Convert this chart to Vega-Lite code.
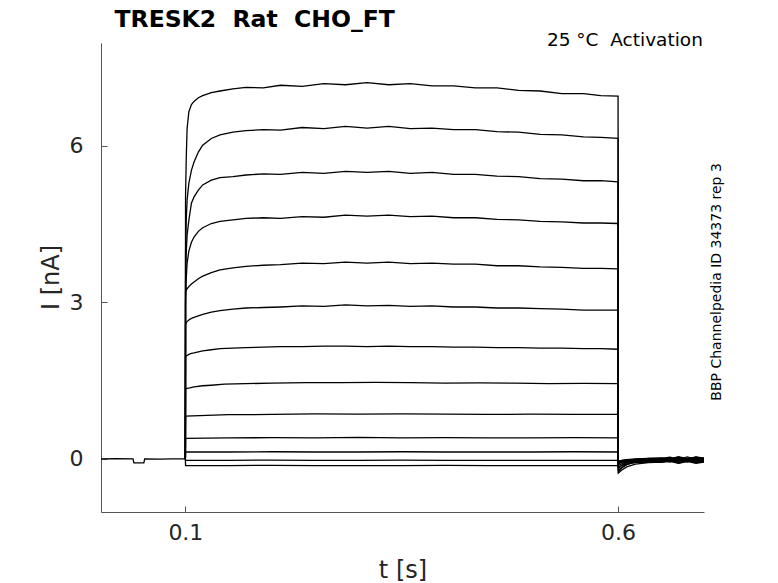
{
  "$schema": "https://vega.github.io/schema/vega-lite/v6.json",
  "width": 603,
  "height": 469,
  "autosize": "none",
  "padding": {"left": 101, "top": 43, "right": 74, "bottom": 71},
  "background": "white",
  "config": {
    "view": {"stroke": null},
    "axis": {
      "grid": false,
      "domainColor": "#555",
      "tickColor": "#555",
      "tickSize": -6,
      "labelColor": "#262626",
      "titleColor": "#262626",
      "labelFont": "DejaVu Sans",
      "titleFont": "DejaVu Sans",
      "labelFontSize": 22,
      "titleFontSize": 24,
      "titleFontWeight": "normal"
    }
  },
  "layer": [
    {
      "data": {"values": [
        {"s":0,"t":0.0025,"i":0},{"s":0,"t":0.02,"i":0.005},{"s":0,"t":0.0395,"i":0},{"s":0,"t":0.0405,"i":-0.08},{"s":0,"t":0.052,"i":-0.08},{"s":0,"t":0.053,"i":0},{"s":0,"t":0.07,"i":-0.005},{"s":0,"t":0.085,"i":0},{"s":0,"t":0.1,"i":0},

        {"s":1,"t":0.1,"i":0},{"s":1,"t":0.1002,"i":5.03},{"s":1,"t":0.101,"i":5.75},{"s":1,"t":0.102,"i":6.33},{"s":1,"t":0.104,"i":6.65},{"s":1,"t":0.107,"i":6.79},{"s":1,"t":0.11,"i":6.85},{"s":1,"t":0.115,"i":6.92},{"s":1,"t":0.12,"i":6.96},{"s":1,"t":0.13,"i":7.02},{"s":1,"t":0.14,"i":7.05},{"s":1,"t":0.155,"i":7.09},{"s":1,"t":0.17,"i":7.12},{"s":1,"t":0.19,"i":7.11},{"s":1,"t":0.21,"i":7.16},{"s":1,"t":0.235,"i":7.14},{"s":1,"t":0.26,"i":7.19},{"s":1,"t":0.285,"i":7.17},{"s":1,"t":0.31,"i":7.21},{"s":1,"t":0.335,"i":7.17},{"s":1,"t":0.36,"i":7.19},{"s":1,"t":0.385,"i":7.15},{"s":1,"t":0.41,"i":7.15},{"s":1,"t":0.435,"i":7.11},{"s":1,"t":0.46,"i":7.11},{"s":1,"t":0.485,"i":7.06},{"s":1,"t":0.51,"i":7.05},{"s":1,"t":0.535,"i":7.0},{"s":1,"t":0.56,"i":7.0},{"s":1,"t":0.58,"i":6.96},{"s":1,"t":0.6,"i":6.95},
        {"s":1,"t":0.6003,"i":-0.274},{"s":1,"t":0.604,"i":-0.218},{"s":1,"t":0.61,"i":-0.155},{"s":1,"t":0.62,"i":-0.102},{"s":1,"t":0.635,"i":-0.072},{"s":1,"t":0.65,"i":-0.063},{"s":1,"t":0.66,"i":-0.035},{"s":1,"t":0.67,"i":-0.08},{"s":1,"t":0.68,"i":-0.04},{"s":1,"t":0.69,"i":-0.075},{"s":1,"t":0.7,"i":-0.05},

        {"s":2,"t":0.1,"i":0},{"s":2,"t":0.1002,"i":3.94},{"s":2,"t":0.101,"i":4.58},{"s":2,"t":0.102,"i":4.96},{"s":2,"t":0.104,"i":5.28},{"s":2,"t":0.107,"i":5.53},{"s":2,"t":0.11,"i":5.69},{"s":2,"t":0.115,"i":5.88},{"s":2,"t":0.12,"i":6.01},{"s":2,"t":0.13,"i":6.14},{"s":2,"t":0.14,"i":6.21},{"s":2,"t":0.155,"i":6.26},{"s":2,"t":0.17,"i":6.29},{"s":2,"t":0.19,"i":6.31},{"s":2,"t":0.21,"i":6.3},{"s":2,"t":0.235,"i":6.35},{"s":2,"t":0.26,"i":6.33},{"s":2,"t":0.285,"i":6.37},{"s":2,"t":0.31,"i":6.34},{"s":2,"t":0.335,"i":6.37},{"s":2,"t":0.36,"i":6.33},{"s":2,"t":0.385,"i":6.34},{"s":2,"t":0.41,"i":6.31},{"s":2,"t":0.435,"i":6.31},{"s":2,"t":0.46,"i":6.27},{"s":2,"t":0.485,"i":6.26},{"s":2,"t":0.51,"i":6.22},{"s":2,"t":0.535,"i":6.21},{"s":2,"t":0.56,"i":6.17},{"s":2,"t":0.58,"i":6.16},{"s":2,"t":0.6,"i":6.14},
        {"s":2,"t":0.6003,"i":-0.244},{"s":2,"t":0.604,"i":-0.18},{"s":2,"t":0.61,"i":-0.108},{"s":2,"t":0.62,"i":-0.048},{"s":2,"t":0.635,"i":-0.014},{"s":2,"t":0.65,"i":-0.004},{"s":2,"t":0.66,"i":-0.025},{"s":2,"t":0.67,"i":0.02},{"s":2,"t":0.68,"i":-0.02},{"s":2,"t":0.69,"i":0.025},{"s":2,"t":0.7,"i":0},

        {"s":3,"t":0.1,"i":0},{"s":3,"t":0.1002,"i":3.41},{"s":3,"t":0.101,"i":3.96},{"s":3,"t":0.102,"i":4.29},{"s":3,"t":0.104,"i":4.57},{"s":3,"t":0.107,"i":4.9},{"s":3,"t":0.11,"i":5.02},{"s":3,"t":0.115,"i":5.15},{"s":3,"t":0.12,"i":5.25},{"s":3,"t":0.13,"i":5.34},{"s":3,"t":0.14,"i":5.39},{"s":3,"t":0.155,"i":5.41},{"s":3,"t":0.17,"i":5.44},{"s":3,"t":0.19,"i":5.46},{"s":3,"t":0.21,"i":5.45},{"s":3,"t":0.235,"i":5.49},{"s":3,"t":0.26,"i":5.47},{"s":3,"t":0.285,"i":5.51},{"s":3,"t":0.31,"i":5.49},{"s":3,"t":0.335,"i":5.51},{"s":3,"t":0.36,"i":5.47},{"s":3,"t":0.385,"i":5.49},{"s":3,"t":0.41,"i":5.45},{"s":3,"t":0.435,"i":5.45},{"s":3,"t":0.46,"i":5.42},{"s":3,"t":0.485,"i":5.41},{"s":3,"t":0.51,"i":5.37},{"s":3,"t":0.535,"i":5.36},{"s":3,"t":0.56,"i":5.33},{"s":3,"t":0.58,"i":5.33},{"s":3,"t":0.6,"i":5.31},
        {"s":3,"t":0.6003,"i":-0.215},{"s":3,"t":0.604,"i":-0.167},{"s":3,"t":0.61,"i":-0.112},{"s":3,"t":0.62,"i":-0.066},{"s":3,"t":0.635,"i":-0.04},{"s":3,"t":0.65,"i":-0.033},{"s":3,"t":0.66,"i":-0.005},{"s":3,"t":0.67,"i":-0.05},{"s":3,"t":0.68,"i":-0.01},{"s":3,"t":0.69,"i":-0.055},{"s":3,"t":0.7,"i":-0.02},

        {"s":4,"t":0.1,"i":0},{"s":4,"t":0.1002,"i":3.0},{"s":4,"t":0.101,"i":3.45},{"s":4,"t":0.102,"i":3.75},{"s":4,"t":0.104,"i":3.98},{"s":4,"t":0.107,"i":4.15},{"s":4,"t":0.11,"i":4.25},{"s":4,"t":0.115,"i":4.36},{"s":4,"t":0.12,"i":4.43},{"s":4,"t":0.13,"i":4.51},{"s":4,"t":0.14,"i":4.55},{"s":4,"t":0.155,"i":4.58},{"s":4,"t":0.17,"i":4.61},{"s":4,"t":0.19,"i":4.62},{"s":4,"t":0.21,"i":4.61},{"s":4,"t":0.235,"i":4.64},{"s":4,"t":0.26,"i":4.63},{"s":4,"t":0.285,"i":4.67},{"s":4,"t":0.31,"i":4.65},{"s":4,"t":0.335,"i":4.67},{"s":4,"t":0.36,"i":4.64},{"s":4,"t":0.385,"i":4.65},{"s":4,"t":0.41,"i":4.62},{"s":4,"t":0.435,"i":4.62},{"s":4,"t":0.46,"i":4.59},{"s":4,"t":0.485,"i":4.58},{"s":4,"t":0.51,"i":4.55},{"s":4,"t":0.535,"i":4.54},{"s":4,"t":0.56,"i":4.52},{"s":4,"t":0.58,"i":4.52},{"s":4,"t":0.6,"i":4.51},
        {"s":4,"t":0.6003,"i":-0.185},{"s":4,"t":0.604,"i":-0.131},{"s":4,"t":0.61,"i":-0.07},{"s":4,"t":0.62,"i":-0.02},{"s":4,"t":0.635,"i":0.009},{"s":4,"t":0.65,"i":0.017},{"s":4,"t":0.66,"i":0},{"s":4,"t":0.67,"i":0.04},{"s":4,"t":0.68,"i":0},{"s":4,"t":0.69,"i":0.035},{"s":4,"t":0.7,"i":0.01},

        {"s":5,"t":0.1,"i":0},{"s":5,"t":0.1002,"i":3.2},{"s":5,"t":0.101,"i":3.23},{"s":5,"t":0.102,"i":3.26},{"s":5,"t":0.104,"i":3.3},{"s":5,"t":0.107,"i":3.35},{"s":5,"t":0.11,"i":3.39},{"s":5,"t":0.115,"i":3.45},{"s":5,"t":0.12,"i":3.5},{"s":5,"t":0.13,"i":3.57},{"s":5,"t":0.14,"i":3.62},{"s":5,"t":0.155,"i":3.66},{"s":5,"t":0.17,"i":3.69},{"s":5,"t":0.19,"i":3.71},{"s":5,"t":0.21,"i":3.72},{"s":5,"t":0.235,"i":3.75},{"s":5,"t":0.26,"i":3.74},{"s":5,"t":0.285,"i":3.77},{"s":5,"t":0.31,"i":3.75},{"s":5,"t":0.335,"i":3.77},{"s":5,"t":0.36,"i":3.74},{"s":5,"t":0.385,"i":3.75},{"s":5,"t":0.41,"i":3.73},{"s":5,"t":0.435,"i":3.73},{"s":5,"t":0.46,"i":3.7},{"s":5,"t":0.485,"i":3.7},{"s":5,"t":0.51,"i":3.68},{"s":5,"t":0.535,"i":3.67},{"s":5,"t":0.56,"i":3.65},{"s":5,"t":0.58,"i":3.65},{"s":5,"t":0.6,"i":3.64},
        {"s":5,"t":0.6003,"i":-0.157},{"s":5,"t":0.604,"i":-0.129},{"s":5,"t":0.61,"i":-0.097},{"s":5,"t":0.62,"i":-0.071},{"s":5,"t":0.635,"i":-0.056},{"s":5,"t":0.65,"i":-0.052},{"s":5,"t":0.66,"i":-0.025},{"s":5,"t":0.67,"i":-0.07},{"s":5,"t":0.68,"i":-0.03},{"s":5,"t":0.69,"i":-0.07},{"s":5,"t":0.7,"i":-0.04},

        {"s":6,"t":0.1,"i":0},{"s":6,"t":0.1002,"i":2.58},{"s":6,"t":0.101,"i":2.61},{"s":6,"t":0.102,"i":2.63},{"s":6,"t":0.104,"i":2.66},{"s":6,"t":0.107,"i":2.69},{"s":6,"t":0.11,"i":2.71},{"s":6,"t":0.115,"i":2.74},{"s":6,"t":0.12,"i":2.77},{"s":6,"t":0.13,"i":2.81},{"s":6,"t":0.14,"i":2.84},{"s":6,"t":0.155,"i":2.87},{"s":6,"t":0.17,"i":2.89},{"s":6,"t":0.19,"i":2.9},{"s":6,"t":0.21,"i":2.91},{"s":6,"t":0.235,"i":2.93},{"s":6,"t":0.26,"i":2.92},{"s":6,"t":0.285,"i":2.95},{"s":6,"t":0.31,"i":2.93},{"s":6,"t":0.335,"i":2.94},{"s":6,"t":0.36,"i":2.92},{"s":6,"t":0.385,"i":2.93},{"s":6,"t":0.41,"i":2.91},{"s":6,"t":0.435,"i":2.91},{"s":6,"t":0.46,"i":2.89},{"s":6,"t":0.485,"i":2.89},{"s":6,"t":0.51,"i":2.88},{"s":6,"t":0.535,"i":2.87},{"s":6,"t":0.56,"i":2.85},{"s":6,"t":0.58,"i":2.85},{"s":6,"t":0.6,"i":2.85},
        {"s":6,"t":0.6003,"i":-0.127},{"s":6,"t":0.604,"i":-0.096},{"s":6,"t":0.61,"i":-0.062},{"s":6,"t":0.62,"i":-0.033},{"s":6,"t":0.635,"i":-0.016},{"s":6,"t":0.65,"i":-0.012},{"s":6,"t":0.66,"i":-0.035},{"s":6,"t":0.67,"i":0.01},{"s":6,"t":0.68,"i":-0.03},{"s":6,"t":0.69,"i":0.015},{"s":6,"t":0.7,"i":-0.02},

        {"s":7,"t":0.1,"i":0},{"s":7,"t":0.1002,"i":1.95},{"s":7,"t":0.101,"i":1.97},{"s":7,"t":0.102,"i":1.98},{"s":7,"t":0.104,"i":2.0},{"s":7,"t":0.107,"i":2.02},{"s":7,"t":0.11,"i":2.03},{"s":7,"t":0.115,"i":2.05},{"s":7,"t":0.12,"i":2.07},{"s":7,"t":0.13,"i":2.09},{"s":7,"t":0.14,"i":2.11},{"s":7,"t":0.155,"i":2.12},{"s":7,"t":0.17,"i":2.13},{"s":7,"t":0.19,"i":2.14},{"s":7,"t":0.21,"i":2.15},{"s":7,"t":0.235,"i":2.15},{"s":7,"t":0.26,"i":2.16},{"s":7,"t":0.285,"i":2.16},{"s":7,"t":0.31,"i":2.15},{"s":7,"t":0.335,"i":2.16},{"s":7,"t":0.36,"i":2.15},{"s":7,"t":0.385,"i":2.15},{"s":7,"t":0.41,"i":2.14},{"s":7,"t":0.435,"i":2.14},{"s":7,"t":0.46,"i":2.13},{"s":7,"t":0.485,"i":2.13},{"s":7,"t":0.51,"i":2.12},{"s":7,"t":0.535,"i":2.12},{"s":7,"t":0.56,"i":2.11},{"s":7,"t":0.58,"i":2.11},{"s":7,"t":0.6,"i":2.1},
        {"s":7,"t":0.6003,"i":-0.097},{"s":7,"t":0.604,"i":-0.069},{"s":7,"t":0.61,"i":-0.037},{"s":7,"t":0.62,"i":-0.011},{"s":7,"t":0.635,"i":0.004},{"s":7,"t":0.65,"i":0.008},{"s":7,"t":0.66,"i":0.03},{"s":7,"t":0.67,"i":-0.01},{"s":7,"t":0.68,"i":0.035},{"s":7,"t":0.69,"i":-0.01},{"s":7,"t":0.7,"i":0.02},

        {"s":8,"t":0.1,"i":0},{"s":8,"t":0.1002,"i":1.34},{"s":8,"t":0.102,"i":1.35},{"s":8,"t":0.105,"i":1.36},{"s":8,"t":0.11,"i":1.38},{"s":8,"t":0.12,"i":1.4},{"s":8,"t":0.13,"i":1.41},{"s":8,"t":0.145,"i":1.43},{"s":8,"t":0.17,"i":1.44},{"s":8,"t":0.2,"i":1.45},{"s":8,"t":0.24,"i":1.46},{"s":8,"t":0.28,"i":1.46},{"s":8,"t":0.32,"i":1.465},{"s":8,"t":0.36,"i":1.46},{"s":8,"t":0.4,"i":1.45},{"s":8,"t":0.44,"i":1.455},{"s":8,"t":0.48,"i":1.45},{"s":8,"t":0.52,"i":1.44},{"s":8,"t":0.56,"i":1.445},{"s":8,"t":0.6,"i":1.44},
        {"s":8,"t":0.6003,"i":-0.079},{"s":8,"t":0.604,"i":-0.069},{"s":8,"t":0.61,"i":-0.057},{"s":8,"t":0.62,"i":-0.048},{"s":8,"t":0.635,"i":-0.042},{"s":8,"t":0.65,"i":-0.041},{"s":8,"t":0.66,"i":-0.06},{"s":8,"t":0.67,"i":-0.02},{"s":8,"t":0.68,"i":-0.065},{"s":8,"t":0.69,"i":-0.015},{"s":8,"t":0.7,"i":-0.05},

        {"s":9,"t":0.1,"i":0},{"s":9,"t":0.1002,"i":0.82},{"s":9,"t":0.15,"i":0.845},{"s":9,"t":0.2,"i":0.85},{"s":9,"t":0.25,"i":0.86},{"s":9,"t":0.3,"i":0.855},{"s":9,"t":0.35,"i":0.86},{"s":9,"t":0.4,"i":0.855},{"s":9,"t":0.45,"i":0.85},{"s":9,"t":0.5,"i":0.855},{"s":9,"t":0.55,"i":0.85},{"s":9,"t":0.6,"i":0.85},
        {"s":9,"t":0.6003,"i":-0.059},{"s":9,"t":0.604,"i":-0.049},{"s":9,"t":0.61,"i":-0.037},{"s":9,"t":0.62,"i":-0.028},{"s":9,"t":0.635,"i":-0.022},{"s":9,"t":0.65,"i":-0.021},{"s":9,"t":0.66,"i":0},{"s":9,"t":0.67,"i":-0.045},{"s":9,"t":0.68,"i":0.005},{"s":9,"t":0.69,"i":-0.04},{"s":9,"t":0.7,"i":-0.01},

        {"s":10,"t":0.1,"i":0},{"s":10,"t":0.1002,"i":0.39},{"s":10,"t":0.15,"i":0.4},{"s":10,"t":0.2,"i":0.405},{"s":10,"t":0.25,"i":0.4},{"s":10,"t":0.3,"i":0.41},{"s":10,"t":0.35,"i":0.4},{"s":10,"t":0.4,"i":0.405},{"s":10,"t":0.45,"i":0.4},{"s":10,"t":0.5,"i":0.4},{"s":10,"t":0.55,"i":0.405},{"s":10,"t":0.6,"i":0.4},
        {"s":10,"t":0.6003,"i":-0.049},{"s":10,"t":0.604,"i":-0.036},{"s":10,"t":0.61,"i":-0.022},{"s":10,"t":0.62,"i":-0.01},{"s":10,"t":0.635,"i":-0.003},{"s":10,"t":0.65,"i":-0.001},{"s":10,"t":0.66,"i":-0.025},{"s":10,"t":0.67,"i":0.02},{"s":10,"t":0.68,"i":-0.02},{"s":10,"t":0.69,"i":0.025},{"s":10,"t":0.7,"i":-0.01},

        {"s":11,"t":0.1,"i":0},{"s":11,"t":0.1002,"i":0.13},{"s":11,"t":0.15,"i":0.13},{"s":11,"t":0.2,"i":0.135},{"s":11,"t":0.25,"i":0.13},{"s":11,"t":0.3,"i":0.13},{"s":11,"t":0.35,"i":0.135},{"s":11,"t":0.4,"i":0.13},{"s":11,"t":0.45,"i":0.13},{"s":11,"t":0.5,"i":0.13},{"s":11,"t":0.55,"i":0.135},{"s":11,"t":0.6,"i":0.13},
        {"s":11,"t":0.6003,"i":-0.05},{"s":11,"t":0.604,"i":-0.056},{"s":11,"t":0.61,"i":-0.061},{"s":11,"t":0.62,"i":-0.066},{"s":11,"t":0.635,"i":-0.069},{"s":11,"t":0.65,"i":-0.07},{"s":11,"t":0.66,"i":-0.05},{"s":11,"t":0.67,"i":-0.085},{"s":11,"t":0.68,"i":-0.05},{"s":11,"t":0.69,"i":-0.085},{"s":11,"t":0.7,"i":-0.06},

        {"s":12,"t":0.1,"i":0},{"s":12,"t":0.1002,"i":-0.03},{"s":12,"t":0.15,"i":-0.03},{"s":12,"t":0.2,"i":-0.025},{"s":12,"t":0.25,"i":-0.03},{"s":12,"t":0.3,"i":-0.03},{"s":12,"t":0.35,"i":-0.025},{"s":12,"t":0.4,"i":-0.03},{"s":12,"t":0.45,"i":-0.03},{"s":12,"t":0.5,"i":-0.03},{"s":12,"t":0.55,"i":-0.03},{"s":12,"t":0.6,"i":-0.03},
        {"s":12,"t":0.6003,"i":-0.05},{"s":12,"t":0.604,"i":-0.044},{"s":12,"t":0.61,"i":-0.039},{"s":12,"t":0.62,"i":-0.034},{"s":12,"t":0.635,"i":-0.031},{"s":12,"t":0.65,"i":-0.03},{"s":12,"t":0.66,"i":-0.055},{"s":12,"t":0.67,"i":-0.01},{"s":12,"t":0.68,"i":-0.05},{"s":12,"t":0.69,"i":-0.005},{"s":12,"t":0.7,"i":-0.04},

        {"s":13,"t":0.1,"i":0},{"s":13,"t":0.1002,"i":-0.13},{"s":13,"t":0.15,"i":-0.13},{"s":13,"t":0.2,"i":-0.125},{"s":13,"t":0.25,"i":-0.13},{"s":13,"t":0.3,"i":-0.13},{"s":13,"t":0.35,"i":-0.13},{"s":13,"t":0.4,"i":-0.125},{"s":13,"t":0.45,"i":-0.13},{"s":13,"t":0.5,"i":-0.13},{"s":13,"t":0.55,"i":-0.13},{"s":13,"t":0.6,"i":-0.13},
        {"s":13,"t":0.6003,"i":-0.049},{"s":13,"t":0.604,"i":-0.033},{"s":13,"t":0.61,"i":-0.016},{"s":13,"t":0.62,"i":-0.001},{"s":13,"t":0.635,"i":0.007},{"s":13,"t":0.65,"i":0.009},{"s":13,"t":0.66,"i":-0.01},{"s":13,"t":0.67,"i":0.03},{"s":13,"t":0.68,"i":-0.015},{"s":13,"t":0.69,"i":0.03},{"s":13,"t":0.7,"i":0}
      ]},
      "mark": {"type": "line", "color": "#000", "strokeWidth": 1.3, "clip": true},
      "encoding": {
        "x": {
          "field": "t", "type": "quantitative",
          "scale": {"domain": [0.0025, 0.6993], "nice": false, "zero": false},
          "axis": {"values": [0.1, 0.6], "format": ".1f", "title": "t [s]", "labelPadding": 16, "titleY": 65, "titleBaseline": "alphabetic"}
        },
        "y": {
          "field": "i", "type": "quantitative",
          "scale": {"domain": [-1.02, 7.97], "nice": false, "zero": false},
          "axis": {"values": [0, 3, 6], "title": "I [nA]", "labelPadding": 24, "titleX": -50, "titleY": 234, "titleBaseline": "middle", "titleAngle": 270}
        },
        "detail": {"field": "s", "type": "nominal"}
      }
    },
    {
      "data": {"values": [{"label": "TRESK2\u00a0\u00a0Rat\u00a0\u00a0CHO_FT"}]},
      "mark": {"type": "text", "align": "left", "baseline": "alphabetic", "font": "DejaVu Sans", "fontSize": 23.5, "fontWeight": "bold", "color": "#000"},
      "encoding": {
        "x": {"datum": 0.0181, "type": "quantitative"},
        "y": {"datum": 8.28, "type": "quantitative"},
        "text": {"field": "label"}
      }
    },
    {
      "data": {"values": [{"label": "25 °C\u00a0\u00a0Activation"}]},
      "mark": {"type": "text", "align": "right", "baseline": "alphabetic", "font": "DejaVu Sans", "fontSize": 18.5, "color": "#000"},
      "encoding": {
        "x": {"datum": 0.698, "type": "quantitative"},
        "y": {"datum": 7.92, "type": "quantitative"},
        "text": {"field": "label"}
      }
    },
    {
      "data": {"values": [{"label": "BBP Channelpedia ID 34373 rep 3"}]},
      "mark": {"type": "text", "align": "center", "baseline": "middle", "angle": 270, "font": "DejaVu Sans", "fontSize": 14, "color": "#000"},
      "encoding": {
        "x": {"datum": 0.7139, "type": "quantitative"},
        "y": {"datum": 3.39, "type": "quantitative"},
        "text": {"field": "label"}
      }
    }
  ]
}
